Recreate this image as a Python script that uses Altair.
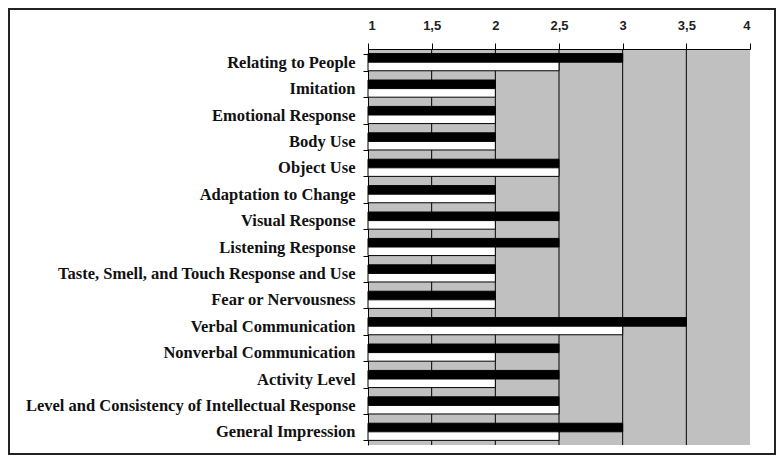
import altair as alt
import pandas as pd

categories = [
    "Relating to People",
    "Imitation",
    "Emotional Response",
    "Body Use",
    "Object Use",
    "Adaptation to Change",
    "Visual Response",
    "Listening Response",
    "Taste, Smell, and Touch Response and Use",
    "Fear or Nervousness",
    "Verbal Communication",
    "Nonverbal Communication",
    "Activity Level",
    "Level and Consistency of Intellectual Response",
    "General Impression",
]
black_vals = [3, 2, 2, 2, 2.5, 2, 2.5, 2.5, 2, 2, 3.5, 2.5, 2.5, 2.5, 3]
white_vals = [2.5, 2, 2, 2, 2.5, 2, 2, 2, 2, 2, 3, 2, 2, 2.5, 2.5]
ticks = [1, 1.5, 2, 2.5, 3, 3.5, 4]
series = ["A", "B"]

rows = []
for c, b, w in zip(categories, black_vals, white_vals):
    rows.append({"cat": c, "series": series[0], "value": b})
    rows.append({"cat": c, "series": series[1], "value": w})
df = pd.DataFrame(rows)

x_scale = alt.Scale(domain=[ticks[0], ticks[-1]], nice=False, zero=False)

grid = alt.Chart(pd.DataFrame({"g": ticks[1:-1]})).mark_rule(
    color="black", strokeWidth=1
).encode(x=alt.X("g:Q", scale=x_scale, title=None))

bars = alt.Chart(df).mark_bar(stroke="black", strokeWidth=1).encode(
    y=alt.Y(
        "cat:N",
        sort=categories,
        scale=alt.Scale(paddingInner=0.35, paddingOuter=0.175),
        axis=alt.Axis(
            title=None,
            labelFont="Liberation Serif",
            labelFontWeight="bold",
            labelFontSize=16.5,
            labelColor="#111",
            domainColor="black",
            tickColor="black",
            tickBand="extent",
            tickSize=5,
            labelPadding=8,
            labelLimit=500,
            grid=False,
        ),
    ),
    yOffset=alt.YOffset(
        "series:N", scale=alt.Scale(domain=series, paddingInner=0, paddingOuter=0)
    ),
    x=alt.X(
        "value:Q",
        scale=x_scale,
        axis=alt.Axis(
            orient="top",
            title=None,
            values=ticks,
            format="~g",
            labelExpr="replace(datum.label, '.', ',')",
            labelFont="Liberation Sans",
            labelFontWeight="bold",
            labelFontSize=13,
            labelColor="#222",
            domainColor="black",
            tickColor="black",
            tickSize=6,
            labelPadding=11,
            grid=False,
        ),
    ),
    x2=alt.datum(1),
    fill=alt.Fill(
        "series:N", scale=alt.Scale(domain=series, range=["black", "white"]), legend=None
    ),
)

frame = alt.Chart(pd.DataFrame({"k": [0]})).mark_rect(
    fillOpacity=0, stroke="#222", strokeWidth=2
).encode(
    x=alt.value(-359), x2=alt.value(407), y=alt.value(-40), y2=alt.value(405)
)

chart = (
    alt.layer(grid, bars, frame)
    .properties(
        width=382,
        height=396,
        padding={"left": 360, "top": 41, "right": 26, "bottom": 10},
        autosize=alt.AutoSizeParams(type="none"),
        background="white",
    )
    .configure_view(fill="#c0c0c0", strokeWidth=0)
)

chart.save("out.html", embed_options={"renderer": "svg", "actions": False})
